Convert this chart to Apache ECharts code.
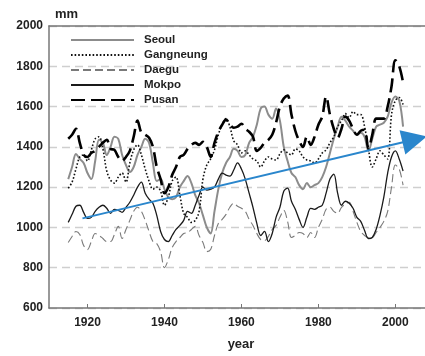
<!DOCTYPE html>
<html>
<head>
<meta charset="utf-8">
<script src="https://cdn.jsdelivr.net/npm/echarts@6/dist/echarts.min.js"></script>
<style>
html, body { margin:0; padding:0; background:#fff; }
#ct1 { width:425px; height:356px; }
</style>
</head>
<body>
<div id="ct1"></div>
<script>
var years = [];
for (var y = 1915; y <= 2002; y++) years.push(y);

var seoul = [1240,1300,1365,1340,1320,1270,1240,1330,1435,1420,1360,1400,1450,1440,1360,1310,1275,1300,1360,1400,
    1440,1420,1320,1230,1240,1190,1150,1140,1150,1200,1230,1255,1220,1160,1120,1060,1000,970,1080,1190,
    1270,1320,1350,1390,1380,1350,1360,1420,1450,1510,1590,1600,1560,1540,1590,1530,1400,1330,1270,1250,
    1210,1190,1220,1200,1210,1220,1250,1300,1370,1440,1500,1550,1530,1500,1480,1460,1470,1450,1380,1440,
    1500,1510,1520,1550,1620,1650,1630,1500];
var gangneung = [1195,1225,1290,1350,1360,1330,1385,1440,1450,1390,1280,1235,1220,1250,1270,1225,1320,1385,1410,1360,
    1290,1230,1190,1200,1180,1110,1150,1230,1250,1160,1070,1050,1025,1035,1080,1240,1310,1340,1385,1460,
    1510,1540,1500,1430,1410,1370,1380,1360,1340,1330,1300,1330,1350,1340,1335,1365,1385,1370,1360,1390,
    1380,1350,1335,1330,1320,1340,1370,1385,1420,1450,1500,1530,1565,1545,1575,1560,1560,1500,1390,1300,
    1340,1380,1360,1340,1560,1630,1645,1610];
var daegu = [925,955,980,965,910,890,930,970,960,945,930,930,965,1005,945,990,1035,1080,1100,1080,
    1035,980,930,920,880,800,840,900,930,950,970,975,990,1005,960,925,880,890,960,1020,
    1040,1065,1100,1120,1105,1095,1080,1040,1010,970,940,935,955,990,1010,1050,1085,1030,950,960,
    975,970,950,975,950,1000,1040,1090,1100,1080,1070,1100,1115,1125,1080,1025,980,960,950,950,
    975,1000,1030,1080,1200,1310,1290,1210];
var mokpo = [1025,1065,1105,1110,1075,1045,1050,1080,1100,1110,1095,1070,1090,1085,1075,1100,1125,1160,1200,1225,
    1170,1140,1120,1060,980,940,930,960,990,1010,1035,1080,1070,1110,1160,1200,1185,1190,1200,1240,
    1270,1260,1255,1285,1320,1290,1240,1170,1100,1020,960,980,930,970,1050,1100,1180,1195,1130,1090,
    1040,1000,1050,1095,1090,1100,1110,1170,1240,1265,1170,1110,1130,1120,1095,1050,1030,985,945,950,
    990,1060,1150,1270,1350,1380,1340,1280];
var pusan = [1440,1460,1490,1420,1360,1350,1370,1380,1400,1420,1435,1390,1385,1350,1330,1350,1380,1450,1530,1470,
    1460,1445,1400,1300,1240,1170,1200,1260,1300,1350,1360,1390,1410,1420,1410,1425,1400,1350,1420,1475,
    1510,1535,1510,1495,1500,1515,1490,1475,1450,1380,1395,1420,1435,1460,1520,1600,1640,1655,1560,1480,
    1430,1400,1450,1410,1450,1510,1550,1650,1560,1490,1445,1490,1550,1530,1490,1460,1480,1485,1390,1460,
    1540,1540,1540,1600,1700,1830,1800,1720];
var trend = [[1918.7, 1045], [2005, 1437]];
var xTicks = [1920, 1940, 1960, 1980, 2000];

var _font = 'Liberation Sans';

function pairs(arr) {
    var out = [];
    for (var i = 0; i < arr.length; i++) out.push([years[i], arr[i]]);
    return out;
}

function mkSeries(name, data, color, width, type) {
    return {
        name: name,
        type: 'line',
        data: pairs(data),
        smooth: 0.35,
        symbol: 'none',
        lineStyle: { color: color, width: width, type: type },
        itemStyle: { color: color },
        z: 3
    };
}

var series = [
    mkSeries('Seoul', seoul, '#8c8c8c', 2, 'solid'),
    mkSeries('Gangneung', gangneung, '#111', 1.6, [1.6, 2]),
    mkSeries('Daegu', daegu, '#7a7a7a', 1.1, [8, 4]),
    mkSeries('Mokpo', mokpo, '#1a1a1a', 1.3, 'solid'),
    mkSeries('Pusan', pusan, '#000', 2.6, [14, 6])
];
// trend arrow
series.push({
    type: 'line',
    data: [],
    markLine: {
        silent: true,
        symbol: ['none', 'triangle'],
        symbolSize: 25,
        label: { show: false },
        itemStyle: { color: '#2a86cc' },
        lineStyle: { color: '#2a86cc', width: 2, type: 'solid' },
        data: [[{ coord: trend[0] }, { coord: trend[1] }]]
    },
    z: 5
});

var option1 = {
    animation: false,
    backgroundColor: '#fff',
    textStyle: { fontFamily: _font },
    grid: { left: 49, top: 26, right: -5, bottom: 48 },
    legend: {
        orient: 'vertical',
        left: 65,
        top: 29,
        itemWidth: 63,
        itemHeight: 10,
        itemGap: 3,
        itemStyle: { opacity: 0 },
        data: ['Seoul', 'Gangneung', 'Daegu', 'Mokpo', 'Pusan'],
        textStyle: { fontFamily: _font, fontWeight: 'bold', fontSize: 11.5, color: '#222', padding: [0, 0, 0, 5] }
    },
    xAxis: [{
        type: 'value',
        min: 1910,
        max: 2007.7,
        name: 'year',
        nameLocation: 'middle',
        nameGap: 30,
        nameTextStyle: { fontFamily: _font, fontWeight: 'bold', fontSize: 13, color: '#222', padding: [0, 0, 0, 8] },
        axisLine: { lineStyle: { color: '#777', width: 1.5 } },
        axisTick: { inside: true, length: 4, lineStyle: { color: '#777' }, customValues: xTicks },
        splitLine: { show: false },
        axisLabel: {
            margin: 9, fontFamily: _font, fontWeight: 'bold', fontSize: 12, color: '#222',
            customValues: xTicks,
            formatter: function (v) { return String(v); }
        }
    }, {
        type: 'value',
        position: 'top',
        min: 1910,
        max: 2007.7,
        axisLine: { show: true, lineStyle: { color: '#777', width: 1.5 } },
        axisTick: { show: false },
        axisLabel: { show: false },
        splitLine: { show: false }
    }],
    yAxis: {
        type: 'value',
        min: 600,
        max: 2000,
        interval: 200,
        name: 'mm',
        nameGap: 5,
        nameTextStyle: { fontFamily: _font, fontWeight: 'bold', fontSize: 13, color: '#222', align: 'left', padding: [0, 0, 0, 6] },
        axisLine: { show: true, lineStyle: { color: '#777', width: 1.5 } },
        axisTick: { show: false },
        axisLabel: { margin: 6, fontFamily: _font, fontWeight: 'bold', fontSize: 12, color: '#222',
            formatter: function (v) { return String(v); } },
        splitLine: { show: true, lineStyle: { color: '#cfcfcf', width: 1.3, type: [8, 5] } }
    },
    series: series
};

var myChart1 = echarts.init(document.getElementById('ct1'));
myChart1.setOption(option1, true);
</script>
</body>
</html>
